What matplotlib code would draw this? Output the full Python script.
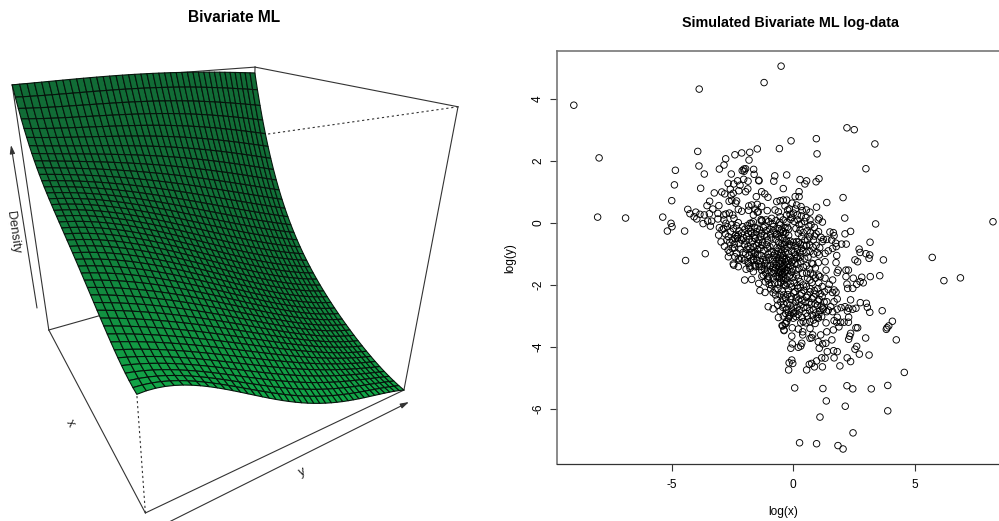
"""
Bivariate ML: perspective surface on the left, log-log scatter on the right
"""

import numpy as np
import matplotlib
matplotlib.use("Agg")
import matplotlib.pyplot as plt
from matplotlib.collections import PolyCollection

plt.rcParams["font.family"] = ["Liberation Sans", "DejaVu Sans"]
plt.rcParams["axes.unicode_minus"] = False

# Surface heights (rows: x from far to near, columns: y)
x_nodes = [0.0, 0.25, 0.5, 0.75, 1.0]
y_nodes = [0.0, 0.25, 0.5, 0.75, 1.0]
heights = [
    [1.000, 1.005, 1.005, 0.995, 0.976],
    [0.740, 0.690, 0.620, 0.540, 0.460],
    [0.617, 0.540, 0.420, 0.300, 0.210],
    [0.497, 0.400, 0.280, 0.160, 0.070],
    [0.410, 0.320, 0.165, 0.065, 0.000],
]

# Scatter points (log x, log y), read by region
far_left = [(-9.02, 3.80), (-7.98, 2.10), (-8.04, 0.19), (-6.89, 0.16), (-5.36, 0.19), (-5.02, -0.01),
            (-4.98, -0.12), (-5.17, -0.26), (-4.46, -0.26), (-3.86, 4.32), (-3.92, 2.31), (-3.87, 1.84),
            (-3.65, 1.58), (-4.84, 1.70), (-4.88, 1.23), (-4.99, 0.72), (-3.80, 1.12), (-3.24, 0.97),
            (-3.61, -0.99), (-4.42, -1.21), (-4.33, 0.44), (-4.24, 0.30), (-4.07, 0.20), (-4.00, 0.35),
            (-3.96, 0.13), (-3.83, 0.28), (-3.70, -0.02), (-3.65, 0.26), (-3.54, 0.56), (-3.43, 0.70),
            (-3.44, 0.30), (-3.30, 0.45), (-3.51, 0.06), (-3.35, 0.06), (-3.40, -0.10)]
upper_left = [(-3.05, 0.56), (-3.09, 0.31), (-3.09, 0.13), (-3.06, -0.39), (-2.96, -0.61), (-3.03, -0.15),
              (-2.85, -0.18), (-2.85, 0.26), (-2.84, 0.10), (-3.03, 1.74), (-2.84, 1.87), (-2.77, 2.07),
              (-2.39, 2.20), (-2.11, 2.26), (-1.78, 2.28), (-1.47, 2.39), (-1.81, 2.03), (-2.54, 1.58),
              (-2.93, 1.00), (-2.81, 0.94), (-2.67, 1.28), (-2.58, 1.09), (-2.44, 1.26), (-2.55, 0.90),
              (-2.46, 0.96), (-2.28, 1.36), (-2.18, 1.22), (-2.03, 1.41), (-1.85, 1.35), (-2.23, 1.04),
              (-1.95, 1.01), (-1.86, 1.10), (-2.09, 1.69), (-2.02, 1.74), (-1.95, 1.75), (-2.01, 1.67),
              (-1.62, 1.73), (-1.60, 1.57), (-1.41, 1.38), (-1.51, 0.85), (-2.63, 0.70), (-2.52, 0.73),
              (-2.32, 0.71), (-2.36, 0.64), (-2.25, 0.44), (-2.11, 0.38), (-1.82, 0.55), (-1.70, 0.58),
              (-1.47, 0.60), (-1.83, 0.41), (-1.56, 0.45), (-1.47, 0.35), (-2.62, 0.32), (-2.76, 0.29),
              (-2.48, 0.26), (-2.43, 0.15), (-2.76, -0.01), (-2.54, -0.06), (-2.25, 0.01), (-2.07, -0.12),
              (-1.77, -0.01), (-1.63, 0.04)]
left_cloud = [(-2.36, -0.40), (-2.30, -0.44), (-2.28, -0.50), (-2.38, -0.50), (-2.25, -0.38), (-2.66, -0.44),
              (-2.72, -0.55), (-2.67, -0.87), (-2.50, -0.82), (-2.32, -0.97), (-2.18, -0.84), (-2.11, -0.55),
              (-1.91, -0.44), (-1.70, -0.33), (-1.63, -0.76), (-1.43, -0.65), (-1.56, -0.98), (-1.77, -0.82),
              (-2.66, -1.09), (-2.39, -1.09), (-2.11, -1.14), (-2.46, -1.32), (-2.44, -1.36), (-2.25, -1.41),
              (-1.93, -1.49), (-1.99, -1.84), (-1.70, -1.82), (-1.41, -1.95), (-1.36, -2.18), (-1.77, -1.39),
              (-1.56, -1.41), (-1.63, -1.57), (-2.20, -1.19), (-1.77, -1.46), (-1.56, -1.35), (-1.29, -1.52),
              (-1.15, -1.30), (-1.63, -1.19), (-1.84, -1.30), (-1.55, -0.50), (-1.40, -0.55), (-1.25, -0.62),
              (-1.10, -0.70), (-1.50, -0.72), (-1.35, -0.80), (-1.20, -0.88), (-1.05, -0.82), (-1.60, -0.95),
              (-1.45, -1.02), (-1.30, -1.05), (-1.15, -1.10), (-2.00, -0.70), (-1.85, -0.75), (-1.95, -1.00),
              (-1.80, -1.05), (-2.00, -1.20), (-1.85, -1.25), (-1.70, -1.20), (-1.50, -1.20), (-1.35, -1.25)]
top_centre = [(-0.56, 2.40), (-0.75, 1.52), (-0.79, 1.35), (-0.26, 1.55), (-1.40, 1.36), (-0.40, 1.11),
              (-1.29, 1.01), (-1.16, 0.94), (-1.03, 0.83), (-0.67, 0.69), (-0.53, 0.72), (-0.26, 0.74),
              (-0.40, 0.74), (-0.33, 0.55), (-1.29, 0.53), (-1.06, 0.40), (-0.74, 0.42), (-0.60, 0.36),
              (-1.31, 0.11), (-1.27, 0.08), (-1.30, 0.06), (-1.63, 0.26), (-1.43, 0.36), (-1.11, 0.10),
              (-0.88, 0.15), (-0.53, 0.20), (-0.26, 0.26), (-1.70, -0.01), (-1.47, -0.17), (-1.15, -0.10),
              (-0.81, -0.12), (-0.53, -0.06), (-0.23, -0.14), (-1.84, -0.33), (-1.60, -0.39), (-1.29, -0.33),
              (-1.08, -0.44), (-0.67, -0.35), (-0.40, -0.28), (-0.49, 5.06), (-1.19, 4.53), (-0.08, 2.65)]
upper_right = [(2.22, 3.07), (2.52, 3.01), (3.37, 2.55), (0.96, 2.72), (0.99, 2.23), (3.00, 1.75), (0.29, 1.40),
               (0.56, 1.36), (0.49, 1.26), (0.95, 1.33), (1.07, 1.43), (0.25, 1.01), (0.25, 0.85), (0.09, 0.85),
               (-0.04, 0.64), (0.15, 0.58), (0.33, 0.53), (-0.15, 0.45), (1.39, 0.66), (0.97, 0.51), (2.06, 0.82),
               (2.13, 0.16), (3.40, -0.03), (8.23, 0.04), (1.08, 0.16), (1.04, 0.10), (1.21, 0.03), (0.18, 0.26),
               (0.34, 0.23), (0.53, 0.17), (0.70, 0.10), (0.66, -0.10), (0.88, -0.14), (0.74, -0.06), (1.52, -0.29),
               (1.66, -0.31), (1.69, -0.41), (2.37, -0.27), (2.14, -0.35), (1.15, -0.46), (1.25, -0.53), (1.39, -0.53),
               (1.21, -0.60), (1.59, -0.55), (1.76, -0.65), (2.00, -0.68), (2.19, -0.68), (1.78, -0.76), (3.17, -0.62),
               (2.72, -0.84), (2.76, -0.95), (3.00, -0.99), (3.16, -1.03), (1.80, -1.05), (1.45, -0.90), (1.63, -0.82),
               (1.32, -0.98), (1.08, -1.03), (0.84, -0.55), (0.29, -0.23), (0.42, -0.31), (0.36, -0.44), (0.22, -0.33),
               (0.49, -0.55), (0.15, -0.60), (5.73, -1.11), (2.55, -1.19), (3.13, -1.14), (3.72, -1.19), (6.21, -1.86),
               (6.89, -1.77), (2.66, -1.25)]
right_side = [(1.77, -1.28), (1.32, -1.25), (1.04, -1.28), (0.77, -1.30), (1.36, -1.52), (1.86, -1.52), (2.18, -1.52),
              (2.28, -1.52), (1.82, -1.60), (2.18, -1.73), (2.48, -1.78), (2.83, -1.75), (3.18, -1.73), (3.57, -1.70),
              (2.76, -1.89), (2.89, -1.93), (2.62, -1.98), (2.22, -1.97), (2.46, -2.11), (2.25, -2.11), (1.63, -1.84),
              (1.49, -1.98), (1.69, -2.16), (1.45, -2.14), (1.77, -2.23), (1.62, -2.24), (1.06, -1.93), (1.04, -1.68),
              (0.84, -1.68), (1.11, -1.73), (1.32, -1.78), (0.70, -1.84), (0.56, -1.62), (0.42, -2.00), (0.29, -1.89),
              (2.37, -2.48), (2.77, -2.57), (3.02, -2.59), (3.06, -2.72), (3.16, -2.88), (3.67, -2.83), (2.59, -2.75),
              (2.46, -2.78), (2.24, -2.84), (2.14, -2.70), (1.98, -2.73), (1.82, -2.78), (2.29, -2.75), (1.82, -2.45),
              (1.69, -2.54), (1.55, -2.70), (1.63, -2.86), (1.39, -2.54), (1.45, -2.81), (1.25, -2.78)]
lower_right = [(4.09, -3.17), (3.94, -3.32), (3.87, -3.38), (3.84, -3.43), (2.29, -3.04), (2.28, -3.20), (2.10, -3.20),
               (1.96, -3.20), (1.80, -3.20), (1.82, -3.04), (1.69, -3.15), (1.89, -3.35), (2.59, -3.38), (2.66, -3.38),
               (2.37, -3.56), (2.33, -3.65), (2.29, -3.75), (2.99, -3.71), (4.25, -3.77), (1.60, -3.77), (1.66, -3.45),
               (1.39, -3.51), (1.36, -3.22), (1.04, -3.07), (0.91, -3.24), (0.70, -3.18), (2.62, -3.98), (2.55, -4.07),
               (2.73, -4.23), (3.13, -4.26), (2.23, -4.35), (2.37, -4.47), (1.69, -4.35), (1.82, -4.15), (1.67, -4.12),
               (1.41, -4.15), (1.08, -4.04), (1.22, -3.90), (1.35, -3.88), (1.04, -3.83), (1.14, -3.61), (0.81, -3.61),
               (0.77, -3.70), (0.70, -3.72), (4.58, -4.82), (1.21, -4.64), (1.32, -4.36), (1.18, -4.35), (0.97, -4.45),
               (0.88, -4.64), (0.77, -4.53), (0.67, -4.56), (0.56, -4.74), (1.93, -4.61)]
lower_centre = [(0.36, -3.88), (0.32, -3.97), (0.22, -4.01), (-0.03, -3.90), (-0.09, -4.04), (0.40, -3.51), (0.40, -3.61),
                (0.22, -3.42), (-0.03, -3.38), (-0.05, -3.65), (-0.37, -3.45), (-0.45, -3.31), (0.42, -3.18), (0.53, -3.22),
                (0.32, -3.22), (0.01, -3.07), (-0.33, -3.24), (-0.26, -3.18), (-0.15, -3.02), (-0.40, -3.00), (-0.60, -3.05),
                (-0.05, -4.42), (-0.01, -4.53), (-0.16, -4.51), (-0.18, -4.74), (0.07, -5.32), (1.23, -5.34), (2.22, -5.25),
                (2.46, -5.35), (3.22, -5.35), (3.90, -5.24), (1.37, -5.74), (2.15, -5.91), (3.90, -6.06), (1.11, -6.26),
                (2.47, -6.77), (0.27, -7.09), (0.97, -7.12), (1.85, -7.18), (2.06, -7.29), (-0.26, -2.78), (-0.05, -2.78),
                (0.12, -2.86), (-0.12, -2.97), (-0.19, -3.07), (-0.29, -3.24), (-0.42, -3.32), (-0.37, -3.47), (0.70, -3.40),
                (0.84, -3.13), (1.18, -3.02), (1.39, -2.86), (-1.15, -2.24), (-1.02, -2.70), (-0.82, -2.77), (-0.53, -2.84),
                (-0.63, -2.65), (-0.65, -2.48), (-0.53, -2.32), (-0.74, -2.16), (-0.88, -2.00), (-1.02, -1.84), (-1.22, -1.68),
                (-1.39, -1.41)]
band_low = [(-0.30, -2.02), (-0.18, -2.17), (-0.05, -2.06), (0.08, -2.21), (0.20, -2.11), (0.36, -2.26), (0.45, -2.17),
            (0.61, -2.33), (0.70, -2.22), (0.85, -2.38), (0.93, -2.29), (1.08, -2.47), (1.20, -2.36), (-0.22, -2.31),
            (-0.07, -2.37), (0.02, -2.25), (0.13, -2.41), (0.29, -2.33), (0.37, -2.49), (0.55, -2.40), (0.66, -2.56),
            (0.78, -2.44), (0.91, -2.61), (1.03, -2.52), (1.16, -2.68), (1.28, -2.55), (0.10, -2.55), (0.23, -2.48),
            (0.33, -2.64), (0.50, -2.56), (0.58, -2.72), (0.75, -2.62), (0.84, -2.79), (1.00, -2.66), (1.10, -2.83),
            (1.22, -2.74), (0.27, -2.80), (0.44, -2.73), (0.53, -2.91), (0.69, -2.83), (0.79, -2.97), (0.94, -2.90),
            (1.06, -2.95), (0.17, -2.72), (0.03, -2.68), (-0.09, -2.46), (0.21, -2.95), (0.38, -3.05), (0.59, -3.00),
            (0.99, -3.04)]
blob_main = [(-1.00, 0.05), (-0.85, -0.02), (-0.70, 0.08), (-0.55, 0.02), (-0.40, 0.10), (-0.25, 0.02), (-0.10, 0.12),
             (0.05, 0.05), (0.20, 0.10), (-0.95, -0.20), (-0.80, -0.25), (-0.62, -0.18), (-0.48, -0.22), (-0.33, -0.15),
             (-0.18, -0.20), (-0.30, -0.32), (-0.18, -0.40), (0.35, -0.02), (-1.05, -0.55), (-0.90, -0.48), (-0.72, -0.52),
             (-0.58, -0.45), (-0.42, -0.50), (-0.28, -0.55), (-0.12, -0.58), (0.02, -0.62), (0.30, -0.68), (0.45, -0.72),
             (0.60, -0.55), (0.55, -0.72), (0.68, -0.70), (0.82, -0.78), (0.95, -0.72), (1.10, -0.80), (0.40, -0.90),
             (0.55, -0.95), (0.70, -0.92), (0.85, -1.00), (1.00, -0.95), (0.30, -1.10), (0.48, -1.15), (0.62, -1.10),
             (0.18, -0.85), (0.05, -0.95), (-0.95, -0.77), (-0.80, -0.72), (-0.65, -0.79), (-0.50, -0.74), (-0.35, -0.70),
             (-0.20, -0.78), (-0.08, -0.73), (-0.90, -0.93), (-0.75, -0.99), (-0.60, -0.91), (-0.48, -0.97), (-0.32, -0.94),
             (-0.18, -1.00), (-0.05, -0.90), (0.10, -1.02), (-1.00, -1.12), (-0.85, -1.18), (-0.70, -1.11), (-0.55, -1.19),
             (-0.42, -1.13), (-0.28, -1.16), (-0.12, -1.12), (0.02, -1.20), (0.15, -1.14), (-0.95, -1.38), (-0.80, -1.32),
             (-0.68, -1.37), (-0.52, -1.31), (-0.40, -1.39), (-0.25, -1.33), (-0.10, -1.36), (0.08, -1.30), (-1.05, -1.52),
             (-0.90, -1.58), (-0.75, -1.53), (-0.60, -1.59), (-0.45, -1.51), (-0.35, -1.57), (-0.22, -1.54), (-0.05, -1.58),
             (0.12, -1.52), (-1.00, -1.73), (-0.82, -1.78), (-0.70, -1.71), (-0.55, -1.77), (-0.42, -1.74), (-0.30, -1.79),
             (-0.15, -1.72), (0.00, -1.76), (-0.75, -1.93), (-0.60, -1.97), (-0.50, -1.91), (-0.38, -1.98), (-0.25, -1.94),
             (-0.10, -1.96), (0.05, -1.92), (-0.48, -0.85), (-0.40, -1.05), (-0.45, -1.25), (-0.36, -1.46), (-0.46, -1.66),
             (-0.38, -1.86), (-0.52, -1.05), (-0.34, -0.82), (-0.55, -1.45), (-0.30, -1.25)]
dense_left = [(-2.92, -0.22), (-2.78, -0.35), (-2.70, -0.12), (-2.58, -0.28), (-2.45, -0.18), (-2.33, -0.09), (-2.22, -0.25),
              (-2.12, -0.33), (-1.98, -0.20), (-1.88, -0.08), (-1.82, -0.18), (-1.74, -0.27), (-1.58, -0.14), (-1.50, -0.28),
              (-1.38, -0.22), (-1.22, -0.15), (-1.10, -0.25), (-2.60, -0.62), (-2.50, -0.55), (-2.42, -0.68), (-2.22, -0.66),
              (-2.05, -0.48), (-1.94, -0.58), (-1.80, -0.52), (-1.68, -0.60), (-1.60, -0.48), (-1.32, -0.45), (-1.18, -0.40),
              (-2.82, -0.75), (-2.60, -0.95), (-2.40, -0.80), (-2.25, -1.15), (-2.05, -0.95), (-1.90, -0.85), (-1.72, -0.95),
              (-1.62, -1.08), (-1.45, -0.85), (-1.28, -0.72), (-1.02, -1.00), (-1.10, -1.22), (-1.22, -1.18), (-1.42, -1.32),
              (-1.30, -1.40), (-1.18, -1.48), (-1.05, -1.38), (-1.12, -1.62), (-1.28, -1.72), (-1.05, -1.78), (-1.14, -1.90),
              (-0.98, -1.98), (-0.92, -2.12), (-0.82, -2.25), (-0.72, -2.32), (-0.62, -2.12), (-0.45, -2.20), (-0.38, -2.32),
              (-0.42, -2.45), (-0.30, -2.42), (-0.50, -2.55), (-0.38, -2.62), (-0.25, -2.58), (-0.12, -2.65), (-0.42, -2.72),
              (-0.30, -2.92), (-0.18, -2.88), (0.02, -2.92), (0.12, -3.02)]
dense_centre = [(-0.92, -0.35), (-0.72, -0.38), (-0.52, -0.32), (-0.38, -0.38), (-0.60, -0.62), (-0.45, -0.66), (-0.30, -0.62),
                (-0.15, -0.68), (0.12, -0.72), (0.22, -0.62), (0.35, -0.82), (0.28, -0.95), (0.18, -1.08), (0.32, -1.25),
                (0.20, -1.32), (0.25, -1.48), (0.42, -1.42), (0.38, -1.62), (0.15, -1.68), (0.22, -1.78), (0.55, -1.38),
                (0.68, -1.48), (0.82, -1.32), (0.92, -1.45), (0.72, -1.62), (0.60, -1.78), (0.78, -1.92), (0.92, -1.78),
                (0.55, -2.05), (0.70, -2.12), (0.88, -2.18), (1.02, -2.12), (1.20, -2.05), (1.30, -2.22), (1.12, -2.28),
                (0.18, -2.02), (0.30, -2.08), (-0.62, -1.02), (-0.58, -1.32), (-0.50, -1.55), (-0.44, -1.42), (-0.42, -1.62),
                (-0.36, -1.18), (-0.30, -1.52), (-0.48, -1.80), (-0.55, -1.62), (-0.62, -1.72), (-0.72, -1.45), (-0.70, -1.25),
                (-0.82, -1.05), (-0.78, -1.62), (-0.85, -1.45), (-0.18, -1.22), (-0.20, -1.44), (-0.12, -1.68), (-0.05, -1.25),
                (-0.02, -1.48), (0.55, 0.42), (0.70, 0.35), (0.48, 0.05), (0.25, -0.05), (0.12, -0.18), (0.58, -0.25),
                (0.72, -0.32), (0.95, -0.35), (0.68, -0.45), (0.88, -0.42), (1.05, -0.28), (0.02, 0.32), (-0.12, 0.28),
                (-0.22, 0.42), (0.10, 0.45), (0.38, 0.40), (-0.05, 0.18)]
regions = [far_left, upper_left, left_cloud, top_centre, upper_right, right_side,
           lower_right, lower_centre, band_low, blob_main, dense_left, dense_centre]
log_x = [p[0] for r in regions for p in r]
log_y = [p[1] for r in regions for p in r]

x_ticks = [-5, 0, 5]
y_ticks = [-6, -4, -2, 0, 2, 4]

W, H = 999, 521
N_ROWS, N_COLS = 42, 40

# Corners of the persp box in pixels, as (x side, y side, height)
corners_3d = [(1, 0, 0), (1, 1, 0), (0, 0, 0), (0, 0, 1), (0, 1, 1), (1, 1, 1), (1, 0, 1)]
corners_px = [(145, 513), (404, 390), (49, 330), (12, 85), (255, 67), (458, 107), (120, 155)]


def fit_camera(pts3, pts2):
    rows = []
    for (a, b, c), (u, v) in zip(pts3, pts2):
        rows.append([a, b, c, 1, 0, 0, 0, 0, -u*a, -u*b, -u*c, -u])
        rows.append([0, 0, 0, 0, a, b, c, 1, -v*a, -v*b, -v*c, -v])
    return np.linalg.svd(np.array(rows, float))[2][-1].reshape(3, 4)


CAM = fit_camera(corners_3d, corners_px)


def project(a, b, c):
    pts = np.stack([a, b, c, np.ones_like(a)], axis=-1) @ CAM.T
    return pts[..., 0]/pts[..., 2], pts[..., 1]/pts[..., 2]


def lagrange(nodes, q):
    nodes = np.asarray(nodes)
    out = np.ones((len(q), len(nodes)))
    for j in range(len(nodes)):
        for k in range(len(nodes)):
            if k != j:
                out[:, j] *= (q - nodes[k])/(nodes[j] - nodes[k])
    return out


fig = plt.figure(figsize=(W/100, H/100), dpi=100)

# Left panel in pixel space
ax3 = fig.add_axes([0, 0, 1, 1])
ax3.set_xlim(0, W)
ax3.set_ylim(H, 0)
ax3.axis("off")

s = np.linspace(0, 1, N_ROWS + 1)
t = np.linspace(0, 1, N_COLS + 1)
Z = lagrange(x_nodes, s) @ np.array(heights) @ lagrange(y_nodes, t).T
S, T = np.meshgrid(s, t, indexing="ij")
PX, PY = project(S, T, Z)

box = {n: project(*(np.array(float(v)) for v in n)) for n in
       [(a, b, c) for a in (0, 1) for b in (0, 1) for c in (0, 1)]}
solid = [((0, 0, 0), (1, 0, 0)), ((1, 0, 0), (1, 1, 0)), ((1, 1, 0), (1, 1, 1)), ((0, 0, 1), (0, 1, 1)),
         ((0, 1, 1), (1, 1, 1)), ((0, 0, 0), (0, 0, 1)), ((0, 0, 0), (0, 1, 0)), ((0, 1, 0), (0, 1, 1))]
dashed = [((1, 0, 0), (1, 0, 1)), ((1, 0, 1), (1, 1, 1))]
for a, b in solid:
    ax3.plot([box[a][0], box[b][0]], [box[a][1], box[b][1]], color="#333333", lw=0.8, zorder=1)
for a, b in dashed:
    ax3.plot([box[a][0], box[b][0]], [box[a][1], box[b][1]], color="#333333", lw=0.8, ls=(0, (2, 2.5)), zorder=1)

polys, faces = [], []
dark, bright = np.array([17, 108, 54])/255, np.array([18, 168, 72])/255
for i in range(N_ROWS):
    for j in range(N_COLS):
        polys.append([(PX[i, j], PY[i, j]), (PX[i+1, j], PY[i+1, j]),
                      (PX[i+1, j+1], PY[i+1, j+1]), (PX[i, j+1], PY[i, j+1])])
        faces.append(dark + (bright - dark)*(s[i]**1.6))
ax3.add_collection(PolyCollection(polys, facecolors=faces, edgecolors="#06140c", linewidths=0.8, zorder=2))

arrow = dict(arrowstyle="-|>,head_width=0.15,head_length=0.5", color="#333333", lw=0.8, shrinkA=0, shrinkB=0)
ax3.annotate("", xy=(11, 145), xytext=(37, 308), arrowprops=arrow)
ax3.annotate("", xy=(135, 523), xytext=(43, 338), arrowprops=arrow)
ax3.annotate("", xy=(409, 402), xytext=(167, 523), arrowprops=arrow)
ax3.text(13, 232, "Density", rotation=-82, ha="center", va="center", fontsize=9.2, color="#222222")
ax3.text(70, 423, "x", rotation=-60, ha="center", va="center", fontsize=9.2, color="#222222")
ax3.text(302, 472, "y", rotation=25, ha="center", va="center", fontsize=9.2, color="#222222")
ax3.text(234.5, 17, "Bivariate ML", ha="center", va="center", fontsize=11.2, fontweight="bold")

# Right panel
ax = fig.add_axes([556.7/W, 1 - 464/H, (1003 - 556.7)/W, (464 - 51)/H])
ax.scatter(log_x, log_y, s=22, facecolors="none", edgecolors="black", linewidths=0.65)
ax.set_xlim((556.7 - 793)/24.3, (1003 - 793)/24.3)
ax.set_ylim((223 - 464)/31, (223 - 51)/31)
ax.set_xticks(x_ticks)
ax.set_yticks(y_ticks)
ax.tick_params(length=5, width=0.8, color="#333333", labelsize=8.6)
ax.tick_params(axis="x", pad=5.5)
ax.tick_params(axis="y", pad=4)
plt.setp(ax.get_yticklabels(), rotation=90, va="center")
for name in ("top", "left"):
    ax.spines[name].set_color("#777777")
    ax.spines[name].set_linewidth(1.2)
ax.spines["bottom"].set_color("#333333")
ax.spines["bottom"].set_linewidth(0.9)
fig.text(783/W, 1 - 512/H, "log(x)", ha="center", va="center", fontsize=8.6)
fig.text(510/W, 1 - 258/H, "log(y)", ha="center", va="center", rotation=90, fontsize=8.6)
fig.text(790/W, 1 - 23/H, "Simulated Bivariate ML log-data", ha="center", va="center", fontsize=10.3, fontweight="bold")

fig.savefig("out.png", dpi=100)
